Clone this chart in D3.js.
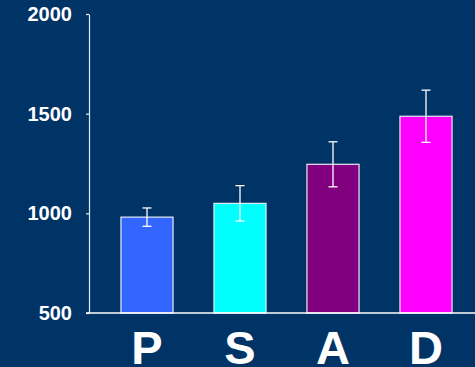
<!DOCTYPE html>
<html>
<head>
<meta charset="utf-8">
<script src="https://cdn.jsdelivr.net/npm/d3@7"></script>
<style>
  html, body { margin: 0; padding: 0; background: #003366; }
  svg { display: block; }
</style>
</head>
<body>
<svg id="chart" width="475" height="367"></svg>
<script>
// Group labels, mean values and error (± spread) per group
const categories = ["P", "S", "A", "D"];
const means = [981, 1050, 1246, 1487];
const errors = [46, 89, 113, 131];
const barColors = ["#3366FF", "#00FFFF", "#800080", "#FF00FF"];
const yTicks = [500, 1000, 1500, 2000];

const svg = d3.select("#chart");
const W = 475;
const axisX = 89;

const y = d3.scaleLinear().domain([500, 2000]).range([313, 14]);
const x = d3.scaleBand()
  .domain(categories)
  .range([100.5, 472.5])
  .paddingInner(0.44)
  .paddingOuter(0.22);

const font = "'Liberation Sans', Arial, Helvetica, sans-serif";

// Left axis with small outward ticks
const yAxis = d3.axisLeft(y)
  .tickValues(yTicks)
  .tickFormat(d3.format("d"))
  .tickSize(3)
  .tickSizeOuter(0)
  .tickPadding(14);
const gy = svg.append("g").attr("transform", `translate(${axisX},0)`).call(yAxis);
gy.select(".domain").attr("stroke", "#e8eef5").attr("stroke-width", 1.2);
gy.selectAll(".tick line").attr("stroke", "#e8eef5").attr("stroke-width", 1.2);
gy.selectAll(".tick text")
  .attr("fill", "#ffffff")
  .style("font-family", font)
  .style("font-weight", "bold")
  .style("font-size", "20px");

// Bars
svg.append("g").selectAll("rect")
  .data(categories)
  .join("rect")
  .attr("x", d => x(d))
  .attr("y", (d, i) => y(means[i]))
  .attr("width", x.bandwidth())
  .attr("height", (d, i) => y(500) - y(means[i]))
  .attr("fill", (d, i) => barColors[i])
  .attr("stroke", "#e6ecf4")
  .attr("stroke-width", 1.2);

// Baseline across the plot
svg.append("line")
  .attr("x1", axisX - 3).attr("x2", W)
  .attr("y1", y(500)).attr("y2", y(500))
  .attr("stroke", "#ffffff").attr("stroke-width", 1.5);

// Error bars
const eg = svg.append("g").attr("stroke", "#ffffff").attr("stroke-width", 1.3);
categories.forEach((c, i) => {
  const cx = x(c) + x.bandwidth() / 2;
  const hi = y(means[i] + errors[i]);
  const lo = y(means[i] - errors[i]);
  eg.append("line").attr("x1", cx).attr("x2", cx).attr("y1", hi).attr("y2", lo);
  eg.append("line").attr("x1", cx - 4.5).attr("x2", cx + 4.5).attr("y1", hi).attr("y2", hi);
  eg.append("line").attr("x1", cx - 4.5).attr("x2", cx + 4.5).attr("y1", lo).attr("y2", lo);
});

// Category labels under the bars
svg.append("g").selectAll("text")
  .data(categories)
  .join("text")
  .attr("x", d => x(d) + x.bandwidth() / 2)
  .attr("y", 364)
  .attr("text-anchor", "middle")
  .attr("fill", "#ffffff")
  .style("font-family", font)
  .style("font-weight", "bold")
  .style("font-size", "47px")
  .text(d => d);
</script>
</body>
</html>
